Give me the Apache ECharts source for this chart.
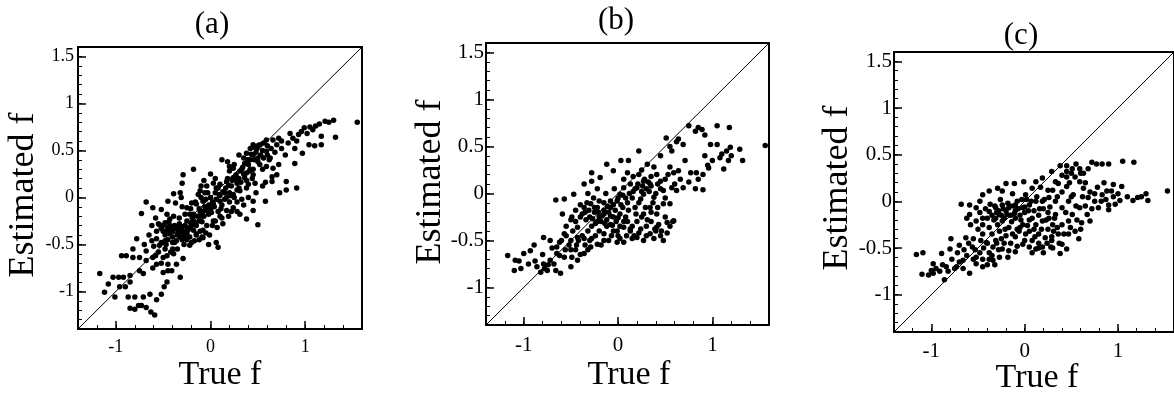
<!DOCTYPE html>
<html>
<head>
<meta charset="utf-8">
<script src="https://cdn.jsdelivr.net/npm/echarts@6/dist/echarts.min.js"></script>
<style>
html,body{margin:0;padding:0;background:#fff;}
#chart{width:1174px;height:396px;}
</style>
</head>
<body>
<div id="chart"></div>
<script>
// ---------- data ----------
const panelTitles = ['(a)', '(b)', '(c)'];
const xAxisTitle = 'True f';
const yAxisTitle = 'Estimated f';
const axisMin = -1.4;
const axisMax = 1.6;
const xMajorTicks = [-1, 0, 1];
const xMinorTicks = [-1.4, -1.2, -1, -0.8, -0.6, -0.4, -0.2, 0, 0.2, 0.4, 0.6, 0.8, 1, 1.2, 1.4, 1.6];
const yMajorTicks = [-1, -0.5, 0, 0.5, 1, 1.5];
const yMinorTicks = [-1.4, -1.3, -1.2, -1.1, -1, -0.9, -0.8, -0.7, -0.6, -0.5, -0.4, -0.3, -0.2, -0.1, 0, 0.1, 0.2, 0.3, 0.4, 0.5, 0.6, 0.7, 0.8, 0.9, 1, 1.1, 1.2, 1.3, 1.4, 1.5, 1.6];
const identityLine = [[-1.4, -1.4], [1.6, 1.6]];

const pointsA = [
[1.55,0.80],[1.30,0.82],[1.21,0.81],[1.15,0.78],[1.11,0.76],[1.05,0.75],[1.32,0.64],[1.17,0.65],[1.17,0.56],[1.10,0.55],
[1.04,0.56],[0.96,0.70],[0.93,0.67],[0.91,0.60],[0.87,0.63],[0.89,0.52],[0.97,0.47],[0.89,0.36],[0.91,0.10],[0.80,0.17],
[0.80,0.08],[0.73,0.05],[0.79,0.45],[0.75,0.52],[0.72,0.63],[0.66,0.61],[0.59,0.61],[0.52,0.56],[0.49,0.52],[0.45,0.56],
[0.42,0.52],[0.38,0.47],[0.59,0.49],[0.63,0.42],[0.56,0.42],[0.50,0.38],[0.59,0.33],[0.66,0.31],[0.70,0.24],[0.65,0.17],
[0.58,0.16],[0.58,-0.04],[0.45,0.24],[0.42,0.30],[0.38,0.26],[0.36,0.21],[0.31,0.28],[0.27,0.24],[0.24,0.31],[0.20,0.28],
[0.12,0.40],[0.20,0.33],[0.24,0.21],[0.17,0.17],[0.10,0.14],[0.06,0.10],[0.03,0.15],[-0.04,0.12],[-0.10,0.12],[-0.11,0.07],
[-0.18,0.30],[-0.29,0.24],[-0.30,0.15],[-0.39,0.04],[-0.32,0.05],[-0.31,0.00],[-0.45,-0.04],[-0.68,-0.05],[-0.61,-0.11],[-0.73,-0.17],
[-0.52,-0.13],[-0.46,-0.18],[-0.43,-0.23],[-0.54,-0.29],[-0.57,-0.36],[-0.50,-0.36],[-0.39,-0.32],[-0.32,-0.36],[-0.25,-0.32],[-0.18,-0.25],
[-0.22,-0.18],[-0.25,-0.11],[-0.15,-0.07],[-0.08,-0.04],[-0.04,-0.11],[0.03,-0.07],[0.10,-0.04],[0.17,0.00],[0.24,0.03],[0.31,0.07],
[0.38,0.10],[0.45,-0.04],[0.45,-0.14],[0.38,-0.23],[0.50,-0.29],[0.31,-0.18],[0.24,-0.11],[0.17,-0.14],[0.10,-0.20],[0.03,-0.25],
[-0.04,-0.30],[-0.11,-0.36],[-0.08,-0.43],[-0.02,-0.50],[0.08,-0.53],[0.06,-0.48],[-0.15,-0.39],[-0.22,-0.51],[-0.27,-0.43],[-0.36,-0.46],
[-0.43,-0.39],[-0.48,-0.46],[-0.54,-0.51],[-0.57,-0.44],[-0.62,-0.46],[-0.68,-0.57],[-0.78,-0.44],[-0.82,-0.55],[-0.89,-0.62],[-0.94,-0.62],
[-0.82,-0.64],[-0.75,-0.64],[-0.68,-0.67],[-0.61,-0.64],[-0.57,-0.71],[-0.50,-0.64],[-0.45,-0.71],[-0.39,-0.60],[-0.36,-0.71],[-0.29,-0.65],
[-0.32,-0.85],[-0.41,-0.78],[-0.50,-0.80],[-0.61,-0.75],[-0.71,-0.81],[-0.75,-0.78],[-0.85,-0.83],[-0.92,-0.85],[-0.97,-0.85],[-1.03,-0.85],
[-1.08,-0.92],[-1.17,-0.81],[-1.12,-1.01],[-1.01,-1.06],[-0.96,-0.95],[-0.90,-0.95],[-0.85,-0.90],[-0.87,-1.06],[-0.80,-1.06],[-0.76,-1.15],
[-0.85,-1.18],[-0.80,-1.19],[-0.73,-1.15],[-0.71,-1.06],[-0.68,-1.17],[-0.63,-1.22],[-0.59,-1.25],[-0.64,-1.03],[-0.57,-1.09],[-0.52,-1.03],
[-0.49,-0.95],[-0.46,-0.90],[-0.45,-0.78],
[-0.45,-0.32],[-0.42,-0.35],[-0.38,-0.30],[-0.35,-0.33],[-0.33,-0.28],[-0.30,-0.35],[-0.28,-0.40],[-0.25,-0.38],[-0.22,-0.33],[-0.20,-0.30],
[-0.18,-0.35],[-0.15,-0.30],[-0.12,-0.25],[-0.10,-0.20],[-0.08,-0.15],[-0.06,-0.10],[-0.02,-0.18],[0.00,-0.12],[0.02,-0.05],[-0.05,-0.02],
[-0.12,-0.12],[-0.18,-0.18],[-0.25,-0.25],[-0.35,-0.40],[-0.40,-0.42],[-0.48,-0.40],[-0.50,-0.30],[-0.45,-0.45],[-0.38,-0.48],[-0.30,-0.45],
[-0.22,-0.42],[-0.15,-0.40],[-0.08,-0.35],[0.05,-0.25],[0.08,-0.15],[0.12,-0.08],[0.15,-0.02],[0.20,0.05],[0.22,0.12],[0.28,0.15],
[0.30,0.20],[0.35,0.25],[0.33,0.30],[0.40,0.35],[0.42,0.40],[0.45,0.45],[0.48,0.48],[0.50,0.42],[0.55,0.50],[0.60,0.55],
[0.52,0.35],[0.45,0.30],[0.38,0.18],[0.30,0.10],[0.25,0.00],[0.20,-0.05],[0.15,0.05],[0.10,0.02],[0.05,0.05],[0.00,0.00],
[-0.03,0.05],[0.08,0.10],[0.18,0.20],[0.25,0.35],[0.35,0.42],[0.55,0.30],[0.62,0.40],[0.68,0.48],[0.72,0.35],[0.65,0.22],
[0.55,0.12],[0.48,0.05],[0.40,0.00],[0.35,-0.08],[0.28,-0.05],[0.22,-0.15],[0.12,-0.22],[0.02,-0.30],[-0.05,-0.38],[-0.12,-0.45],
[-0.20,-0.48],[-0.28,-0.50],[-0.35,-0.55],[-0.42,-0.58],[-0.48,-0.55],[-0.55,-0.58],[-0.52,-0.48],[-0.60,-0.52],
[-0.55,-0.28],[-0.52,-0.33],[-0.48,-0.27],[-0.46,-0.35],[-0.43,-0.30],[-0.40,-0.36],[-0.37,-0.33],[-0.34,-0.38],[-0.31,-0.31],[-0.29,-0.37],
[-0.27,-0.30],[-0.24,-0.35],[-0.21,-0.27],[-0.19,-0.22],[-0.16,-0.27],[-0.14,-0.20],[-0.11,-0.15],[-0.09,-0.26],[-0.07,-0.20],[-0.04,-0.14],
[-0.02,-0.08],[0.01,-0.16],[0.04,-0.10],[0.06,-0.02],[0.09,0.03],[0.11,-0.12],[0.13,0.06],[0.16,0.10],[0.19,0.13],[0.21,0.02],
[0.23,0.18],[0.26,0.20],[0.28,0.08],[0.32,0.16],[0.34,0.32],[0.36,0.36],[0.39,0.40],[0.41,0.28],[0.43,0.46],[0.46,0.40],
[0.47,0.53],[0.50,0.55],[0.53,0.45],[0.56,0.58],[0.44,0.20],[0.40,0.14],[0.47,0.15],[0.33,-0.02],[0.28,-0.15],[0.19,-0.20],
[0.13,-0.28],[0.07,-0.32],[-0.01,-0.40],[-0.09,-0.42],[-0.17,-0.46],[-0.25,-0.45],[-0.32,-0.42],[-0.40,-0.48],[-0.47,-0.50],[-0.44,-0.26],
[-0.39,-0.20],[-0.33,-0.22],[-0.27,-0.18],[-0.21,-0.12],[-0.16,-0.05],[-0.10,0.00],[-0.06,0.05],[-0.13,0.03],[-0.20,-0.06],[-0.30,-0.10],
[-0.37,-0.06],[-0.58,-0.22],[-0.62,-0.30],[-0.65,-0.40],[-0.70,-0.50],[-0.58,-0.62],[-0.52,-0.70],[-0.46,-0.62],[-0.40,-0.55],[0.60,0.45],
[0.64,0.52],[0.70,0.56],[0.75,0.60],[0.82,0.58],[0.84,0.68],[0.99,0.74],[1.02,0.68],[1.08,0.72],[1.25,0.80],[0.30,0.45],
[0.18,0.38],[0.05,0.20],[0.00,0.25],[-0.07,0.18]
];

const pointsB = [
[1.56,0.51],[1.32,0.35],[1.29,0.47],[1.19,0.49],[1.20,0.40],[1.12,0.26],[1.17,0.35],[1.08,0.38],[1.05,0.52],[0.98,0.52],
[0.92,0.40],[0.96,0.27],[0.90,0.20],[0.90,0.04],[0.82,0.05],[0.83,0.22],[0.77,0.22],[1.18,0.70],[1.05,0.72],[0.89,0.68],
[0.82,0.66],[0.75,0.72],[0.69,0.52],[0.64,0.58],[0.51,0.59],[0.57,0.45],[0.71,0.35],[0.64,0.24],[0.59,0.22],[0.55,0.28],
[0.41,0.20],[0.38,0.28],[0.31,0.31],[0.22,0.45],[0.11,0.35],[0.03,0.35],[-0.05,0.24],[-0.12,0.31],[-0.28,0.22],[-0.28,0.13],
[-0.19,0.17],[-0.36,0.10],[-0.47,-0.01],[-0.57,-0.06],[-0.66,-0.07],[0.57,0.06],[0.62,0.03],[0.69,0.06],[0.48,0.03],[0.45,0.13],
[0.34,0.10],[0.27,0.13],[0.22,0.20],[0.20,0.06],[0.13,0.10],[0.06,0.06],[0.27,-0.01],[0.38,-0.04],[0.48,-0.11],[0.55,-0.11],
[0.59,-0.29],[0.52,-0.31],[0.41,-0.22],[0.34,-0.15],[0.27,-0.22],[0.41,-0.36],[0.34,-0.43],[0.27,-0.50],[0.20,-0.47],[0.13,-0.40],
[0.06,-0.52],[-0.01,-0.52],[0.06,-0.36],[-0.01,-0.40],[-0.08,-0.33],[-0.15,-0.43],[-0.22,-0.54],[-0.29,-0.57],[-0.36,-0.64],[-0.43,-0.71],
[-0.50,-0.78],[-0.61,-0.85],[-0.66,-0.82],[-0.75,-0.82],[-0.82,-0.84],[-0.86,-0.78],[-0.79,-0.75],[-0.72,-0.71],[-0.65,-0.64],[-0.57,-0.68],
[-0.49,-0.68],[-1.03,-0.80],[-1.10,-0.82],[-1.17,-0.66],[-1.09,-0.71],[-1.00,-0.64],[-0.93,-0.61],[-0.89,-0.55],[-0.79,-0.47],[-0.72,-0.50],
[-0.65,-0.57],[-0.57,-0.43],[-0.50,-0.50],[-0.43,-0.47],[-0.43,-0.36],[-0.49,-0.25],[-0.59,-0.22],[-0.36,-0.15],[-0.29,-0.11],[-0.22,-0.15],
[-0.15,-0.22],[-0.08,-0.15],[-0.01,-0.08],[0.02,-0.01],
[-0.35,-0.20],[-0.30,-0.25],[-0.25,-0.20],[-0.20,-0.25],[-0.18,-0.30],[-0.12,-0.28],[-0.10,-0.20],[-0.05,-0.25],[-0.02,-0.30],[0.02,-0.22],
[0.05,-0.15],[0.08,-0.25],[0.10,-0.10],[0.15,-0.05],[0.18,-0.15],[0.22,-0.10],[0.25,0.02],[0.30,0.05],[0.32,0.12],[0.35,0.08],
[0.28,0.15],[0.12,0.00],[0.00,-0.05],[-0.08,-0.08],[-0.15,-0.10],[-0.22,-0.30],[-0.28,-0.35],[-0.32,-0.40],[-0.38,-0.45],[-0.42,-0.50],
[-0.35,-0.55],[-0.28,-0.48],[-0.20,-0.40],[-0.12,-0.35],[-0.05,-0.40],[0.02,-0.35],[0.10,-0.30],[0.15,-0.35],[0.20,-0.30],[0.25,-0.25],
[0.30,-0.35],[0.35,-0.30],[0.40,-0.40],[0.45,-0.45],[0.38,-0.48],[0.30,-0.45],[0.22,-0.42],[-0.45,-0.30],[-0.40,-0.25],[-0.48,-0.40],
[-0.55,-0.45],[-0.60,-0.50],[-0.52,-0.55],[-0.45,-0.60],[-0.40,-0.65],[-0.32,-0.60],[-0.25,-0.15],[-0.15,-0.18],[-0.05,-0.12],[0.05,-0.02],
[0.18,0.05],[0.40,0.00],[0.45,0.05],[0.50,-0.05],[0.42,-0.15],[0.35,-0.20],[0.50,-0.25],[0.55,-0.35],[0.48,-0.50],[0.15,-0.48],
[0.00,-0.45],[-0.10,-0.50],[-0.18,-0.55],
[-0.38,-0.22],[-0.34,-0.28],[-0.31,-0.18],[-0.27,-0.27],[-0.24,-0.32],[-0.21,-0.20],[-0.17,-0.24],[-0.14,-0.32],[-0.11,-0.14],[-0.08,-0.24],
[-0.06,-0.34],[-0.03,-0.18],[0.00,-0.26],[0.03,-0.12],[0.06,-0.30],[0.08,-0.05],[0.11,-0.18],[0.13,-0.38],[0.16,0.02],[0.19,-0.22],
[0.21,0.10],[0.24,-0.06],[0.26,0.08],[0.29,-0.15],[0.31,-0.28],[0.33,0.02],[0.37,-0.10],[0.39,-0.38],[0.43,-0.33],[0.46,-0.40],
[0.52,-0.42],[0.58,-0.30],[0.24,-0.38],[0.17,-0.45],[0.09,-0.45],[0.02,-0.48],[-0.07,-0.45],[-0.15,-0.50],[-0.24,-0.45],[-0.30,-0.50],
[-0.36,-0.48],[-0.44,-0.55],[-0.50,-0.60],[-0.56,-0.60],[-0.62,-0.66],[-0.68,-0.75],[-0.74,-0.76],[-0.78,-0.80],[-0.70,-0.58],[-0.62,-0.52],
[-0.55,-0.35],[-0.50,-0.28],[-0.45,-0.18],[-0.40,-0.12],[-0.33,-0.10],[-0.26,-0.05],[-0.20,-0.08],[-0.13,0.00],[-0.22,0.05],[-0.32,0.00],
[-0.04,0.05],[0.06,0.15],[0.10,0.22],[0.16,0.18],[0.25,0.25],[0.35,0.18],[0.42,0.10],[0.50,0.15],[0.53,0.20],[0.60,0.10],
[0.66,0.15],[0.75,0.12],[0.85,0.15],[0.95,0.30],[1.00,0.35],[1.10,0.42],[1.15,0.45],[0.92,0.62],[0.85,0.70],[0.62,0.55],
[0.55,0.50],[0.45,0.40],[-0.80,-0.65],[-0.88,-0.72],[-0.95,-0.75],[-1.05,-0.72]
];

const pointsC = [
[1.53,0.11],[1.32,0.01],[1.30,0.08],[1.21,0.04],[1.16,0.01],[1.17,0.42],[1.05,0.43],[1.02,0.01],[0.97,-0.03],[0.90,-0.09],
[0.90,-0.04],[0.93,0.11],[0.88,0.11],[0.90,0.40],[0.83,0.40],[0.77,0.40],[0.72,0.42],[1.04,0.16],[0.95,0.18],[0.83,0.07],
[0.75,0.00],[0.79,-0.07],[0.68,0.04],[0.63,0.14],[0.59,0.21],[0.63,0.30],[0.59,0.35],[0.51,0.35],[0.54,0.26],[0.45,0.26],
[0.40,0.28],[0.36,0.19],[0.29,0.32],[0.33,0.21],[0.45,0.16],[0.52,0.07],[0.47,0.00],[0.59,-0.07],[0.67,-0.14],[0.70,-0.21],
[0.61,-0.23],[0.58,-0.40],[0.47,-0.35],[0.45,-0.51],[0.38,-0.56],[0.40,-0.46],[0.36,-0.35],[0.31,-0.32],[0.28,-0.49],[0.19,-0.49],
[0.12,-0.51],[0.05,-0.49],[-0.02,-0.46],[-0.10,-0.54],[-0.17,-0.53],[-0.24,-0.51],[-0.27,-0.60],[-0.34,-0.63],[-0.40,-0.68],[-0.45,-0.70],
[-0.52,-0.67],[-0.59,-0.77],[-0.66,-0.72],[-0.73,-0.70],[-0.84,-0.70],[-0.86,-0.84],[-0.91,-0.75],[-0.98,-0.77],[-1.03,-0.79],[-1.10,-0.78],
[-1.16,-0.57],[-1.09,-0.55],[-0.98,-0.67],[-0.89,-0.56],[-0.80,-0.51],[-0.79,-0.40],[-0.70,-0.47],[-0.63,-0.39],[-0.66,-0.63],[-0.56,-0.49],
[-0.52,-0.60],[-0.45,-0.35],[-0.41,-0.44],[-0.34,-0.49],[-0.31,-0.42],[-0.27,-0.32],[-0.20,-0.37],[-0.13,-0.35],[-0.06,-0.32],[0.01,-0.35],
[0.08,-0.42],[0.15,-0.35],[0.22,-0.39],[0.29,-0.42],[-0.68,-0.03],[-0.59,-0.04],[-0.52,-0.07],[-0.48,0.00],[-0.45,0.07],[-0.38,0.11],
[-0.29,0.14],[-0.24,0.11],[-0.20,0.19],[-0.11,0.19],[-0.01,0.21],[0.12,0.21],[0.19,0.25],[0.08,0.14],[0.01,0.07],[-0.59,-0.14],
[-0.52,-0.21],[-0.45,-0.18],[-0.38,-0.11],[-0.31,-0.07],[-0.24,-0.04],[-0.17,-0.07],[-0.10,-0.04],[-0.02,-0.07],[0.05,-0.04],[0.12,0.00],
[0.19,0.00],[0.26,0.04],[0.33,0.00],[0.40,-0.07],[0.33,-0.14],[0.26,-0.18],[0.19,-0.21],[0.12,-0.25],[0.05,-0.32],[-0.02,-0.25],
[-0.10,-0.18],[-0.17,-0.28],[-0.24,-0.21],[-0.31,-0.18],[-0.38,-0.28],[-0.45,-0.25],[0.40,-0.25],[0.47,-0.21],[0.51,-0.14],[0.54,-0.32],
[-0.30,-0.12],[-0.25,-0.15],[-0.20,-0.10],[-0.15,-0.15],[-0.10,-0.10],[-0.05,-0.15],[0.00,-0.12],[-0.28,-0.10],[-0.22,-0.18],[-0.12,-0.05],
[-0.35,-0.15],[-0.18,-0.02],[-0.08,0.00],[0.02,0.02],[0.10,-0.10],[0.15,-0.15],[0.20,-0.08],[0.25,-0.12],[0.10,-0.30],[0.05,-0.20],
[-0.05,-0.28],[-0.10,-0.38],[0.15,-0.45],[0.25,-0.30],[0.30,-0.25],[0.20,-0.55],[0.30,-0.50],[-0.15,-0.45],[-0.25,-0.40],[-0.35,-0.35],
[-0.40,-0.45],[-0.48,-0.55],[-0.55,-0.62],[-0.62,-0.58],[-0.70,-0.65],[-0.75,-0.72],[-0.45,-0.62],[-0.35,-0.58],[-0.28,-0.52],[0.35,0.05],
[0.40,0.10],[0.50,0.05],[0.55,-0.05],[0.62,0.05],[0.70,0.10],[0.78,0.15],[0.85,0.20],[0.60,0.30],[0.45,0.32],[0.38,0.38],
[0.48,0.20],
[-0.42,-0.08],[-0.40,-0.18],[-0.37,-0.03],[-0.33,-0.20],[-0.32,-0.05],[-0.29,-0.25],[-0.27,-0.14],[-0.26,0.02],[-0.23,-0.08],[-0.21,-0.30],
[-0.19,-0.14],[-0.16,-0.05],[-0.14,-0.22],[-0.13,0.08],[-0.11,-0.13],[-0.08,-0.30],[-0.07,-0.08],[-0.04,-0.20],[-0.03,0.02],[0.00,-0.06],
[0.03,-0.26],[0.04,-0.10],[0.07,0.00],[0.08,-0.18],[0.11,-0.38],[0.13,0.05],[0.16,-0.08],[0.18,-0.30],[0.21,0.02],[0.23,-0.20],
[0.27,-0.06],[0.29,-0.38],[0.32,-0.18],[0.35,-0.28],[0.37,-0.45],[0.42,-0.35],[0.44,-0.12],[0.49,-0.28],[0.56,-0.20],[0.60,-0.30],
[0.65,-0.05],[0.72,-0.08],[0.75,0.08],[0.82,0.00],[0.87,0.02],[0.95,0.05],[1.00,0.08],[1.10,0.05],[1.25,0.05],[-0.50,-0.30],
[-0.55,-0.40],[-0.60,-0.45],[-0.65,-0.52],[-0.72,-0.55],[-0.78,-0.62],[-0.82,-0.75],[-0.88,-0.68],[-0.95,-0.72],[-1.00,-0.74],[-0.58,-0.25],
[-0.62,-0.18],[-0.48,-0.12],[-0.44,-0.50],[-0.38,-0.55],[-0.30,-0.45],[-0.22,-0.45],[-0.18,-0.60],[-0.08,-0.48],[0.00,-0.42],[0.08,-0.55],
[0.15,-0.50],[0.24,-0.45],[-0.47,-0.42],[-0.53,-0.52],[-0.38,-0.62],[-0.32,-0.68],[0.25,0.12],[0.17,0.15],[0.30,0.12],[0.55,0.40],
[0.50,0.30],[0.65,0.20],[0.68,0.35],[0.45,0.38]
];

// ---------- layout / style ----------
const FONT = 'Liberation Serif';
const panels = [
  { data: pointsA, grid: { left: 78, top: 47, width: 284, height: 282 }, tickFont: 18, xLabelMargin: 9, yLabelMargin: 4,
    title: [212, 25], xTitle: [220, 375], yTitle: [24, 195] },
  { data: pointsB, grid: { left: 486, top: 43, width: 283, height: 282 }, tickFont: 21, xLabelMargin: 10, yLabelMargin: 2,
    title: [616, 21], xTitle: [629, 375], yTitle: [431, 182] },
  { data: pointsC, grid: { left: 894, top: 52, width: 283, height: 280 }, tickFont: 21, xLabelMargin: 9, yLabelMargin: 2,
    title: [1021, 36], xTitle: [1037, 378], yTitle: [838, 188] }
];

const grids = [], xAxes = [], yAxes = [], series = [], graphics = [];
const black = '#000';
panels.forEach((p, i) => {
  grids.push(Object.assign({ containLabel: false }, p.grid));
  const base = { gridIndex: i, type: 'value', min: axisMin, max: axisMax, splitLine: { show: false } };
  xAxes.push(Object.assign({}, base, {
    position: 'bottom',
    axisLine: { show: true, onZero: false, lineStyle: { color: black, width: 2 } },
    axisTick: { show: true, inside: true, length: 8, customValues: xMajorTicks, lineStyle: { color: black, width: 1.5 } },
    axisLabel: { show: true, customValues: xMajorTicks, color: black, fontFamily: FONT, fontSize: p.tickFont, margin: p.xLabelMargin }
  }));
  xAxes.push(Object.assign({}, base, {
    position: 'bottom',
    axisLine: { show: false, onZero: false },
    axisTick: { show: true, inside: true, length: 4, customValues: xMinorTicks, lineStyle: { color: black, width: 1 } },
    axisLabel: { show: false }
  }));
  xAxes.push(Object.assign({}, base, {
    position: 'top',
    axisLine: { show: true, onZero: false, lineStyle: { color: black, width: 2 } },
    axisTick: { show: false }, axisLabel: { show: false }
  }));
  yAxes.push(Object.assign({}, base, {
    position: 'left',
    axisLine: { show: true, onZero: false, lineStyle: { color: black, width: 2 } },
    axisTick: { show: true, inside: true, length: 8, customValues: yMajorTicks, lineStyle: { color: black, width: 1.5 } },
    axisLabel: { show: true, customValues: yMajorTicks, color: black, fontFamily: FONT, fontSize: p.tickFont, margin: p.yLabelMargin }
  }));
  yAxes.push(Object.assign({}, base, {
    position: 'left',
    axisLine: { show: false, onZero: false },
    axisTick: { show: true, inside: true, length: 4, customValues: yMinorTicks, lineStyle: { color: black, width: 1 } },
    axisLabel: { show: false }
  }));
  yAxes.push(Object.assign({}, base, {
    position: 'right',
    axisLine: { show: true, onZero: false, lineStyle: { color: black, width: 2 } },
    axisTick: { show: false }, axisLabel: { show: false }
  }));

  series.push({
    type: 'line', xAxisIndex: i * 3, yAxisIndex: i * 3, data: identityLine,
    showSymbol: false, symbol: 'none', silent: true,
    lineStyle: { color: black, width: 1 }, clip: true, z: 2
  });
  series.push({
    type: 'scatter', xAxisIndex: i * 3, yAxisIndex: i * 3, data: p.data,
    symbol: 'circle', symbolSize: 5.5, itemStyle: { color: black, opacity: 1 }, z: 3, silent: true
  });

  graphics.push({ type: 'text', x: p.title[0], y: p.title[1],
    style: { text: panelTitles[i], font: '31px "' + FONT + '"', fill: black, align: 'center', verticalAlign: 'middle' } });
  graphics.push({ type: 'text', x: p.xTitle[0], y: p.xTitle[1],
    style: { text: xAxisTitle, font: '34px "' + FONT + '"', fill: black, align: 'center', verticalAlign: 'middle' } });
  graphics.push({ type: 'text', x: p.yTitle[0], y: p.yTitle[1], rotation: Math.PI / 2,
    style: { text: yAxisTitle, font: '36px "' + FONT + '"', fill: black, align: 'center', verticalAlign: 'middle' } });
});

const chart = echarts.init(document.getElementById('chart'), null, { renderer: 'canvas' });
chart.setOption({
  animation: false,
  backgroundColor: '#fff',
  grid: grids,
  xAxis: xAxes,
  yAxis: yAxes,
  series: series,
  graphic: graphics
});
</script>
</body>
</html>
